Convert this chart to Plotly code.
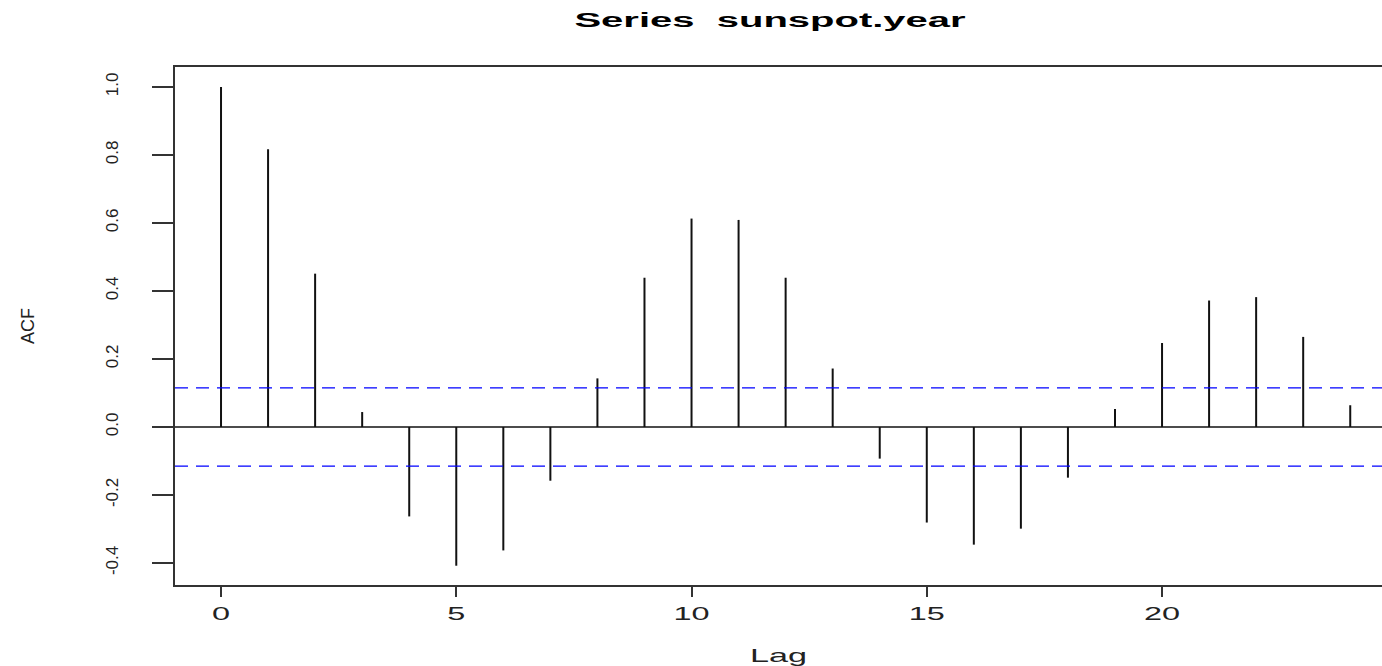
import plotly.graph_objects as go

# ACF of sunspot.year
lags = list(range(0, 25))
acf = [1.000, 0.817, 0.451, 0.044, -0.263, -0.408, -0.363, -0.158, 0.143,
       0.439, 0.613, 0.609, 0.439, 0.172, -0.093, -0.281, -0.346, -0.299,
       -0.149, 0.053, 0.247, 0.372, 0.382, 0.265, 0.064]
ci = 0.1153  # qnorm(0.975)/sqrt(289)

x_ticks = [0, 5, 10, 15, 20]
y_ticks = [-0.4, -0.2, 0.0, 0.2, 0.4, 0.6, 0.8, 1.0]
y_tick_text = ["-0.4", "-0.2", "0.0", "0.2", "0.4", "0.6", "0.8", "1.0"]

xs, ys = [], []
for l, v in zip(lags, acf):
    xs += [l, l, None]
    ys += [0, v, None]

fig = go.Figure()
fig.add_trace(go.Scatter(x=xs, y=ys, mode="lines",
                         line=dict(color="#111111", width=2),
                         hoverinfo="skip", showlegend=False))

fig.add_hline(y=0, line=dict(color="#111111", width=1.6))
for c in (ci, -ci):
    fig.add_hline(y=c, line=dict(color="#0000ff", width=1.3, dash="13px,8px"))

font = "Liberation Sans, Arial, sans-serif"
fig.update_layout(
    width=1382, height=666,
    margin=dict(l=175, r=0, t=67, b=81),
    paper_bgcolor="white", plot_bgcolor="white",
    title=dict(text="<b>Series  sunspot.year</b>", x=0.5572, xanchor="center",
               y=0.970, yanchor="middle",
               font=dict(family=font, size=20, color="black")),
    font=dict(family=font, color="#222222"),
)
fig.update_xaxes(
    range=[-0.978, 24.675], tickvals=x_ticks, ticktext=[str(t) for t in x_ticks],
    showgrid=False, zeroline=False, showline=True, linecolor="#333333",
    linewidth=2, mirror=True, ticks="outside", ticklen=10, tickwidth=2,
    tickcolor="#333333", tickfont=dict(size=18, family=font, color="#222222"),
    ticklabelstandoff=1,
    title=dict(text="Lag", font=dict(size=19, family=font, color="#222222"),
               standoff=26),
)
fig.update_yaxes(
    range=[-0.4647, 1.0588], tickvals=y_ticks, ticktext=y_tick_text,
    showgrid=False, zeroline=False, showline=True, linecolor="#333333",
    linewidth=2, mirror=False, ticks="outside", ticklen=21, tickwidth=2,
    tickcolor="#333333", tickangle=-90,
    tickfont=dict(size=17, family=font, color="#222222"),
    ticklabelstandoff=27,
    title=dict(text="ACF", font=dict(size=18, family=font, color="#222222"),
               standoff=64),
)

# Page without body margin; the reference text is horizontally stretched,
# so widen the horizontal texts.
post = """
document.body.style.margin = '0';
document.body.style.overflow = 'hidden';
var gd = document.getElementById('{plot_id}');
function stretchText(){
  var sel = [['.gtitle', 2.0], ['.xtick text', 1.8], ['.g-xtitle text', 1.8]];
  sel.forEach(function(p){
    gd.querySelectorAll(p[0]).forEach(function(t){
      var w = t.getComputedTextLength();
      if (!w) return;
      t.setAttribute('textLength', w*p[1]);
      t.setAttribute('lengthAdjust','spacingAndGlyphs');
    });
  });
}
stretchText();
"""

fig.write_html("out.html", post_script=post, config={"displayModeBar": False})
